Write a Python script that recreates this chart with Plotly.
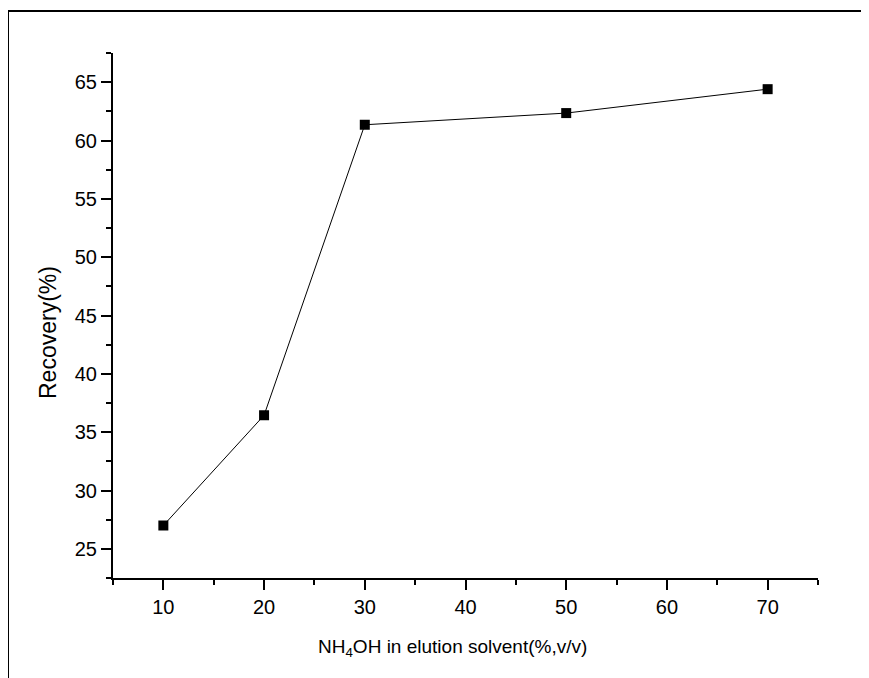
import plotly.graph_objects as go

nh4oh_percent = [10, 20, 30, 50, 70]
recovery = [27.0, 36.45, 61.35, 62.35, 64.4]

x_title = "NH<sub>4</sub>OH in elution solvent(%,v/v)"
y_title = "Recovery(%)"

# browser body has an 8px margin; compensate so the picture lands at the reference position
OFF = 8
W, H = 869 - OFF, 678 - OFF
L, T = 113 - OFF, 53 - OFF
pw, ph = 705, 525
R = W - L - pw
B = H - T - ph

def px_to_paper_x(px):
    return (px - OFF - L) / pw

def px_to_paper_y(py):
    return (T + ph - (py - OFF)) / ph

fig = go.Figure()
fig.add_trace(go.Scatter(
    x=nh4oh_percent, y=recovery, mode="lines+markers",
    line=dict(color="black", width=1),
    marker=dict(symbol="square", size=10, color="black"),
    showlegend=False,
))

family = "Liberation Sans, Arial, sans-serif"
tick_font = dict(family=family, size=20, color="black")
xtitle_font = dict(family=family, size=19, color="black")
ytitle_font = dict(family=family, size=23, color="black")

axis_common = dict(
    showline=True, linewidth=2, linecolor="black",
    ticks="outside", ticklen=10, tickwidth=2, tickcolor="black",
    showgrid=False, zeroline=False, tickfont=tick_font,
)

fig.update_xaxes(range=[5, 75], tick0=10, dtick=10,
                 minor=dict(ticks="outside", ticklen=5, tickwidth=2, tickcolor="black", dtick=5, tick0=5, showgrid=False),
                 **axis_common)
fig.update_yaxes(range=[22.5, 67.5], tick0=25, dtick=5,
                 minor=dict(ticks="outside", ticklen=5, tickwidth=2, tickcolor="black", dtick=2.5, tick0=22.5, showgrid=False),
                 **axis_common)

fig.add_annotation(text=x_title, xref="paper", yref="paper",
                   x=px_to_paper_x(452), y=px_to_paper_y(648),
                   showarrow=False, font=xtitle_font, xanchor="center", yanchor="middle")
fig.add_annotation(text=y_title, xref="paper", yref="paper",
                   x=px_to_paper_x(48), y=px_to_paper_y(333),
                   showarrow=False, font=ytitle_font, textangle=-90,
                   xanchor="center", yanchor="middle")

# outer frame (top and left edges visible)
fig.add_shape(type="line", xref="paper", yref="paper",
              x0=px_to_paper_x(8), y0=px_to_paper_y(11), x1=px_to_paper_x(880), y1=px_to_paper_y(11),
              line=dict(color="black", width=2))
fig.add_shape(type="line", xref="paper", yref="paper",
              x0=px_to_paper_x(8), y0=px_to_paper_y(11), x1=px_to_paper_x(8), y1=px_to_paper_y(690),
              line=dict(color="black", width=2))

fig.update_layout(
    width=W, height=H,
    margin=dict(l=L, r=R, t=T, b=B),
    paper_bgcolor="white", plot_bgcolor="white",
    font=tick_font,
)

fig.write_html("out.html")
